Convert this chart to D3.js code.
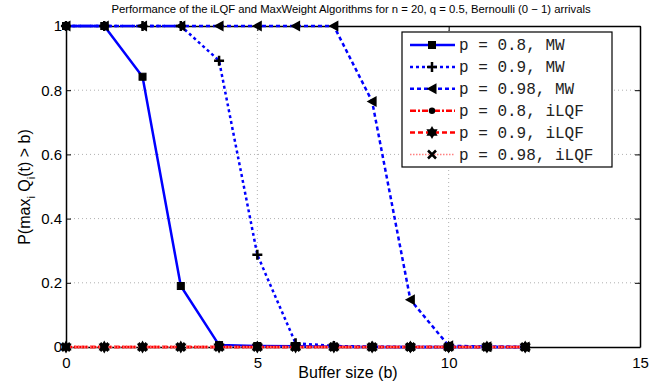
<!DOCTYPE html>
<html>
<head>
<meta charset="utf-8">
<script src="https://cdn.jsdelivr.net/npm/d3@7"></script>
<style>
  body { margin: 0; background: #fff; }
  text { font-family: "Liberation Sans", Arial, sans-serif; fill: #000; }
  .legend-label { font-family: "Liberation Mono", "DejaVu Sans Mono", monospace; font-size: 16px; fill: #222; }
</style>
</head>
<body>
<svg id="chart" width="657" height="390"></svg>
<script>
// buffer sizes b
const bufferSizes = [0, 1, 2, 3, 4, 5, 6, 7, 8, 9, 10, 11, 12];

// MaxWeight
const mw08 = [1, 1, 0.842, 0.19, 0.006, 0.003, 0.002, 0.001, 0, 0, 0, 0, 0];
const mw09 = [1, 1, 1, 1, 0.892, 0.287, 0.012, 0.003, 0.001, 0, 0, 0, 0];
const mw098 = [1, 1, 1, 1, 1, 1, 1, 1, 0.765, 0.147, 0.004, 0.001, 0];

// iLQF
const ilqf08 = [0, 0, 0, 0, 0, 0, 0, 0, 0, 0, 0, 0, 0];
const ilqf09 = [0, 0, 0, 0, 0, 0, 0, 0, 0, 0, 0, 0, 0];
const ilqf098 = [0, 0, 0, 0, 0, 0, 0, 0, 0, 0, 0, 0, 0];

const legendLabels = [
  "p = 0.8, MW",
  "p = 0.9, MW",
  "p = 0.98, MW",
  "p = 0.8, iLQF",
  "p = 0.9, iLQF",
  "p = 0.98, iLQF",
];

const xTicks = [0, 5, 10, 15];
const yTicks = [0, 0.2, 0.4, 0.6, 0.8, 1];

const margin = { left: 66, right: 17, top: 26, bottom: 43 };
const W = 657, H = 390;

const svg = d3.select("#chart");

const xScale = d3.scaleLinear().domain([0, 15]).range([margin.left, W - margin.right]);
const yScale = d3.scaleLinear().domain([0, 1]).range([H - margin.bottom, margin.top]);

// series styles (matlab-ish)
const series = [
  { values: mw08, color: "#0000ff", width: 2.5, dash: null, marker: "square" },
  { values: mw09, color: "#0000ff", width: 2.5, dash: "3,3", marker: "plus" },
  { values: mw098, color: "#0000ff", width: 2.5, dash: "4,3", marker: "triangle" },
  { values: ilqf08, color: "#ff0000", width: 2.5, dash: "6,2,2,2", marker: "circle" },
  { values: ilqf09, color: "#ff0000", width: 2.5, dash: "5,3", marker: "star" },
  { values: ilqf098, color: "#ff8080", width: 1.5, dash: "1.5,1.5", marker: "cross" },
];

// grid
const grid = svg.append("g");
grid.selectAll("line.gx")
  .data(xTicks.filter((d) => d > 0 && d < 15))
  .join("line")
  .attr("x1", (d) => xScale(d)).attr("x2", (d) => xScale(d))
  .attr("y1", yScale(0)).attr("y2", yScale(1))
  .attr("stroke", "#b0b0b0").attr("stroke-dasharray", "1,3");
grid.selectAll("line.gy")
  .data(yTicks.filter((d) => d > 0 && d < 1))
  .join("line")
  .attr("x1", xScale(0)).attr("x2", xScale(15))
  .attr("y1", (d) => yScale(d)).attr("y2", (d) => yScale(d))
  .attr("stroke", "#b0b0b0").attr("stroke-dasharray", "1,3");

// axes (ticks point inward, box on all sides)
const tickLen = 5;
const xAxisB = d3.axisBottom(xScale).tickValues(xTicks).tickSizeInner(-tickLen).tickSizeOuter(0).tickPadding(10).tickFormat(d3.format("d"));
const xAxisT = d3.axisTop(xScale).tickValues(xTicks).tickSizeInner(-tickLen).tickSizeOuter(0).tickFormat("");
const yAxisL = d3.axisLeft(yScale).tickValues(yTicks).tickSizeInner(-tickLen).tickSizeOuter(0).tickPadding(4).tickFormat((d) => (d === 0 || d === 1 ? d3.format("d")(d) : d3.format(".1f")(d)));
const yAxisR = d3.axisRight(yScale).tickValues(yTicks).tickSizeInner(-tickLen).tickSizeOuter(0).tickFormat("");

function styleAxis(g) {
  g.select(".domain").attr("stroke", "#000").attr("stroke-width", 1.5);
  g.selectAll(".tick line").attr("stroke", "#000");
  g.selectAll(".tick text").attr("font-size", 15).attr("font-family", "Liberation Sans, Arial, sans-serif");
}

svg.append("g").attr("transform", `translate(0,${yScale(0)})`).call(xAxisB).call(styleAxis);
svg.append("g").attr("transform", `translate(0,${yScale(1)})`).call(xAxisT).call(styleAxis);
svg.append("g").attr("transform", `translate(${xScale(0)},0)`).call(yAxisL).call(styleAxis);
svg.append("g").attr("transform", `translate(${xScale(15)},0)`).call(yAxisR).call(styleAxis);

// lines
const line = d3.line().x((d) => xScale(d[0])).y((d) => yScale(d[1]));
series.forEach((s) => {
  svg.append("path")
    .datum(bufferSizes.map((b, i) => [b, s.values[i]]))
    .attr("fill", "none")
    .attr("stroke", s.color)
    .attr("stroke-width", s.width)
    .attr("stroke-dasharray", s.dash)
    .attr("d", line);
});

// markers
const tri = d3.symbol(d3.symbolTriangle).size(55)();
function drawMarker(g, type, x, y) {
  if (type === "square") {
    g.append("rect").attr("x", x - 3.5).attr("y", y - 3.5).attr("width", 7).attr("height", 7)
      .attr("fill", "#000").attr("stroke", "#000");
  } else if (type === "plus") {
    g.append("path").attr("d", `M${x - 5},${y}H${x + 5}M${x},${y - 5}V${y + 5}`)
      .attr("stroke", "#000").attr("stroke-width", 2.5);
  } else if (type === "triangle") {
    g.append("path").attr("d", `M${x - 5.5},${y}L${x + 4.5},${y - 5.5}L${x + 4.5},${y + 5.5}Z`)
      .attr("fill", "#000");
  } else if (type === "circle") {
    g.append("circle").attr("cx", x).attr("cy", y).attr("r", 3.2)
      .attr("fill", "#000");
  } else if (type === "star") {
    // hexagram: two triangles
    g.append("path").attr("d", tri).attr("transform", `translate(${x},${y})`).attr("fill", "#000");
    g.append("path").attr("d", tri).attr("transform", `translate(${x},${y}) rotate(180)`).attr("fill", "#000");
  } else if (type === "cross") {
    g.append("path").attr("d", `M${x - 4},${y - 4}L${x + 4},${y + 4}M${x - 4},${y + 4}L${x + 4},${y - 4}`)
      .attr("stroke", "#000").attr("stroke-width", 2.5);
  }
}

series.forEach((s) => {
  const g = svg.append("g");
  bufferSizes.forEach((b, i) => drawMarker(g, s.marker, xScale(b), yScale(s.values[i])));
});

// title
svg.append("text")
  .attr("x", 351).attr("y", 13)
  .attr("text-anchor", "middle")
  .attr("font-size", 11.3)
  .text("Performance of the iLQF and MaxWeight Algorithms for n = 20, q = 0.5, Bernoulli (0 \u2212 1) arrivals");

// axis labels
svg.append("text")
  .attr("x", 348).attr("y", 378)
  .attr("text-anchor", "middle")
  .attr("font-size", 16)
  .text("Buffer size (b)");

const yl = svg.append("text")
  .attr("transform", "translate(30,187) rotate(-90)")
  .attr("text-anchor", "middle")
  .attr("font-size", 16);
yl.append("tspan").text("P(max");
yl.append("tspan").attr("font-size", 11).attr("dy", 5).text("i");
yl.append("tspan").attr("dy", -5).text(" Q");
yl.append("tspan").attr("font-size", 11).attr("dy", 5).text("i");
yl.append("tspan").attr("dy", -5).text("(t) > b)");

// legend
const legend = svg.append("g");
legend.append("rect")
  .attr("x", 402).attr("y", 32).attr("width", 210).attr("height", 135)
  .attr("fill", "#fff").attr("stroke", "#000").attr("stroke-width", 1.2);

const rowY = d3.scaleLinear().domain([0, 5]).range([45, 154.5]);
series.forEach((s, i) => {
  const y = rowY(i);
  legend.append("line")
    .attr("x1", 410).attr("x2", 455).attr("y1", y).attr("y2", y)
    .attr("stroke", s.color).attr("stroke-width", s.width)
    .attr("stroke-dasharray", s.dash);
  drawMarker(legend, s.marker, 432, y);
  legend.append("text")
    .attr("class", "legend-label")
    .attr("x", 459).attr("y", y + 5)
    .attr("xml:space", "preserve")
    .style("white-space", "pre")
    .text(legendLabels[i]);
});
</script>
</body>
</html>
